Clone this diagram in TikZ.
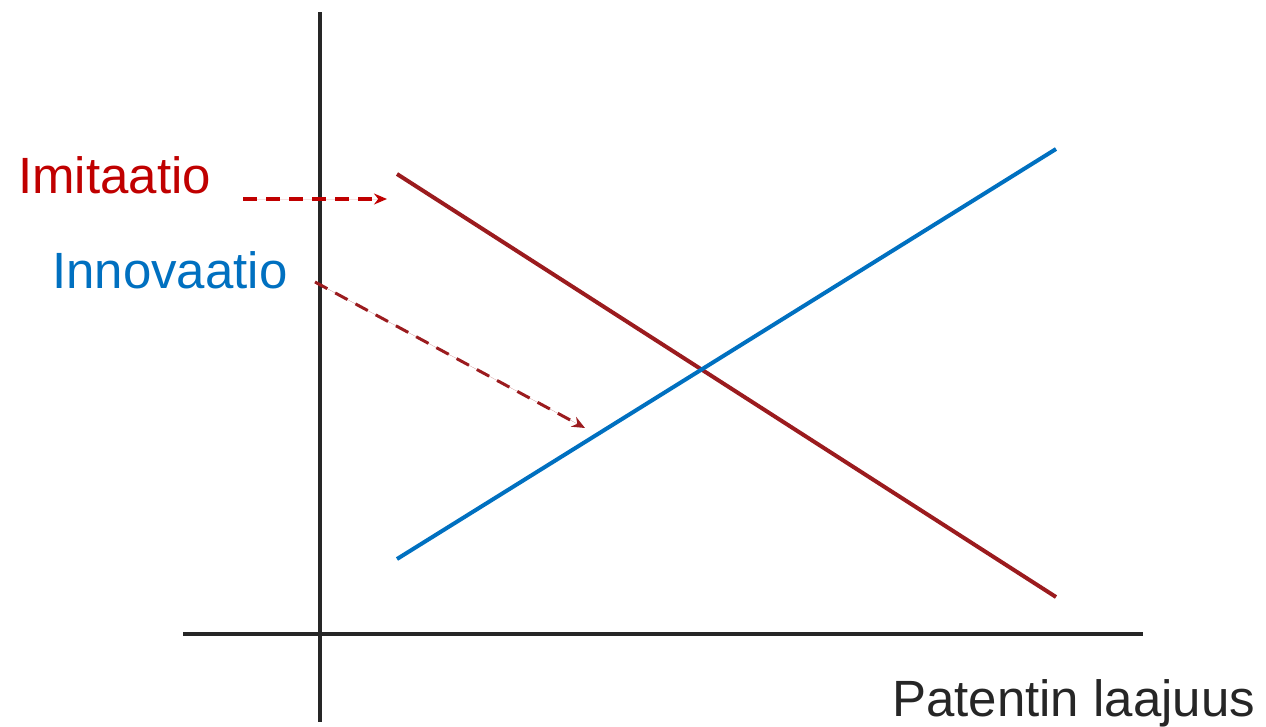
\documentclass[tikz,border=0pt]{standalone}
\usepackage{fontspec}
\setmainfont{Liberation Sans}
\usetikzlibrary{arrows.meta}
\definecolor{axisgray}{HTML}{262626}
\definecolor{imitred}{HTML}{9B1B1E}
\definecolor{brightred}{HTML}{C00000}
\definecolor{innoblue}{HTML}{0070C0}
\tikzset{
  axisline/.style={draw=axisgray,line width=4pt},
  curve/.style={line width=4pt},
  dasharrow/.style={line width=3.5pt,dash pattern=on 14pt off 9pt,-{Stealth[length=13pt,width=11pt]}},
  lbl/.style={anchor=base west,inner sep=0pt,font=\fontsize{51}{60}\selectfont}
}
\begin{document}
\begin{tikzpicture}[x=1pt,y=-1pt]
\useasboundingbox (0,0) rectangle (1266,726);
% axes
\coordinate (ytop) at (320,12);
\coordinate (ybot) at (320,722);
\coordinate (xl) at (183,634);
\coordinate (xr) at (1143,634);
\draw[axisline] (ytop) -- (ybot);
\draw[axisline] (xl) -- (xr);
% lines
\coordinate (r1) at (397,174);
\coordinate (r2) at (1056,597);
\coordinate (b1) at (397,559);
\coordinate (b2) at (1056,149);
\draw[curve,imitred] (r1) -- (r2);
\draw[curve,innoblue] (b1) -- (b2);
% labels
\node[lbl,text=brightred] (imit) at (18,193) {Imitaatio};
\node[lbl,text=innoblue] (inno) at (52,288) {Innovaatio};
\node[lbl,text=axisgray] (xlab) at (892,716) {Patentin laajuus};
% dashed arrows
\coordinate (a1s) at (243,199);
\coordinate (a1e) at (387,199);
\coordinate (a2s) at (315,282);
\coordinate (a2e) at (585,428);
\draw[dasharrow,draw=brightred,fill=brightred] (a1s) -- (a1e);
\draw[dasharrow,draw=imitred,fill=imitred,line width=3pt] (a2s) -- (a2e);
\end{tikzpicture}
\end{document}
